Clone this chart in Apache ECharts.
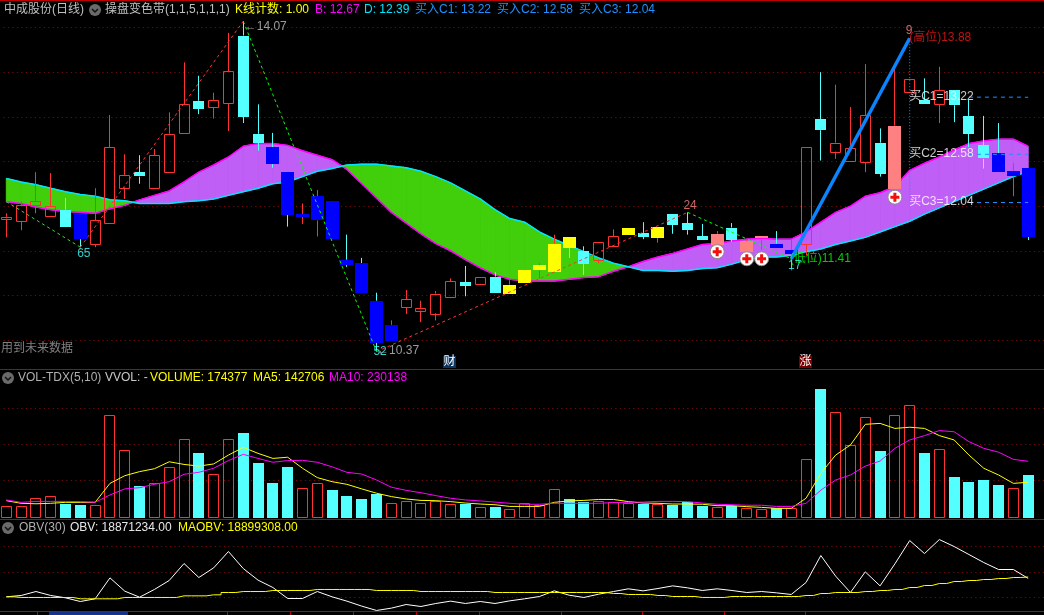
<!DOCTYPE html>
<html>
<head>
<meta charset="utf-8">
<style>html,body{margin:0;padding:0;background:#000;overflow:hidden}#c{width:1044px;height:615px}</style>
<script src="https://cdn.jsdelivr.net/npm/echarts@6/dist/echarts.min.js"></script>
</head>
<body>
<div id="c"></div>
<script>
// ---------- data ----------
const opens = [11.86,11.83,12.01,11.89,11.96,11.91,11.57,11.81,12.21,12.38,
  12.20,12.38,12.81,13.18,13.11,13.15,13.91,12.81,12.66,12.38,
  11.88,11.84,12.06,11.40,11.36,10.94,10.49,10.87,10.83,10.80,
  10.98,11.15,11.13,11.21,11.02,11.14,11.28,11.27,11.65,11.50,
  11.40,11.55,11.68,11.70,11.65,11.91,11.81,11.66,11.57,11.76,
  11.49,11.64,11.58,11.47,11.57,12.97,12.61,12.51,12.49,12.71,
  12.19,13.28,13.19,13.14,13.30,13.01,12.68,12.59,12.33,12.43];
const closes = [11.88,12.01,12.06,12.00,11.77,11.63,11.84,12.66,12.35,12.33,
  12.57,12.81,13.14,13.09,13.19,13.51,13.00,12.71,12.47,11.90,
  11.91,12.11,11.64,11.34,11.02,10.47,10.67,10.96,10.86,11.02,
  11.16,11.11,11.21,11.03,11.12,11.28,11.34,11.58,11.53,11.35,
  11.60,11.66,11.76,11.66,11.77,11.79,11.73,11.62,11.69,11.63,
  11.61,11.66,11.53,11.51,12.66,12.85,12.71,12.65,13.02,12.36,
  12.90,13.42,13.14,13.30,13.13,12.81,12.53,12.38,12.39,11.66];
const highs = [11.92,12.05,12.38,12.37,12.09,11.91,12.20,13.02,12.58,12.57,
  12.64,13.05,13.61,13.46,13.27,13.94,14.07,13.14,12.82,12.38,
  12.03,12.18,12.06,11.68,11.42,11.03,10.72,11.06,10.94,11.05,
  11.19,11.33,11.21,11.26,11.17,11.28,11.36,11.68,11.65,11.55,
  11.60,11.74,11.76,11.82,11.77,11.91,11.93,11.80,11.72,11.81,
  11.63,11.66,11.72,11.63,12.66,13.50,13.36,13.11,13.59,12.87,
  13.55,13.42,13.43,13.56,13.30,13.19,13.01,12.93,12.48,12.43];
const lows = [11.65,11.73,11.92,11.89,11.77,11.54,11.54,11.81,12.08,12.25,
  12.20,12.38,12.81,13.03,12.98,12.84,12.93,12.62,12.43,11.77,
  11.80,11.66,11.64,11.32,11.02,10.37,10.49,10.79,10.70,10.72,
  10.97,10.99,11.12,11.03,11.02,11.14,11.19,11.27,11.42,11.23,
  11.36,11.55,11.68,11.63,11.59,11.69,11.68,11.62,11.57,11.60,
  11.49,11.51,11.53,11.28,11.45,12.51,12.53,12.51,12.38,12.33,
  12.19,13.28,13.14,12.93,12.94,12.66,12.42,12.38,12.11,11.62];
// body paint of each candle: r hollow red, c cyan, b blue, y yellow, p pink
const bodyKinds = ['r','r','r','r','c','b','r','r','r','c',
  'r','r','r','c','r','r','c','c','b','b',
  'b','b','b','b','b','b','b','r','r','r',
  'r','c','r','c','y','y','y','y','y','c',
  'r','r','y','c','y','c','c','c','p','c',
  'p','p','b','b','r','c','r','r','r','c',
  'p','r','c','r','c','c','c','b','b','b'];
const lineB = [12.05,12.03,11.99,11.96,11.94,11.93,11.92,11.97,12.01,12.07,
  12.12,12.17,12.27,12.38,12.46,12.55,12.67,12.70,12.70,12.68,
  12.62,12.57,12.52,12.41,12.25,12.09,11.93,11.81,11.69,11.58,
  11.50,11.40,11.31,11.23,11.18,11.16,11.16,11.16,11.18,11.20,
  11.21,11.27,11.32,11.38,11.43,11.47,11.52,11.57,11.58,11.61,
  11.63,11.64,11.63,11.63,11.71,11.82,11.93,12.00,12.11,12.15,
  12.22,12.40,12.48,12.55,12.63,12.70,12.73,12.75,12.75,12.67];
const lineD = [12.31,12.27,12.24,12.20,12.16,12.13,12.11,12.07,12.06,12.03,
  12.03,12.03,12.05,12.06,12.08,12.12,12.16,12.20,12.25,12.27,
  12.33,12.39,12.42,12.46,12.47,12.47,12.45,12.43,12.39,12.33,
  12.26,12.17,12.08,11.96,11.86,11.82,11.71,11.63,11.56,11.49,
  11.42,11.36,11.32,11.28,11.28,11.27,11.28,11.30,11.31,11.35,
  11.40,11.43,11.43,11.45,11.49,11.52,11.57,11.61,11.65,11.71,
  11.77,11.83,11.91,11.98,12.05,12.12,12.19,12.26,12.33,12.39];
const volumes = [42000,42000,76000,84000,52000,48000,47000,422000,276000,127000,
  138000,205000,322000,265000,176000,322000,348000,223000,140000,206000,
  118000,138000,110000,85000,73000,94000,55000,63000,55000,66000,
  51000,52000,38000,40000,30000,55000,48000,113000,73000,60000,
  63000,59000,55000,53000,51000,48000,59000,44000,38000,44000,
  37000,30000,34000,34000,238000,531000,434000,297000,413000,273000,
  422000,463000,265000,280000,165000,144000,152000,131000,118000,174377];
const volMa5 = [66000,55000,53000,55000,59000,59000,59000,138000,170000,187000,
  199000,228000,217000,210000,219000,256000,288000,263000,242000,247000,
  201000,162000,145000,134000,115000,97000,83000,73000,67000,66000,
  62000,56000,52000,49000,42000,42000,42000,59000,65000,67000,
  71000,71000,62000,56000,55000,52000,52000,51000,45000,45000,
  41000,38000,34000,34000,76000,180000,256000,298000,384000,388000,
  367000,372000,367000,337000,319000,256000,201000,173000,138000,142706];
const volMa10 = [69000,59000,63000,63000,63000,62000,59000,90000,115000,120000,
  134000,145000,176000,184000,201000,233000,259000,242000,226000,233000,
  234000,226000,207000,184000,177000,152000,122000,109000,99000,87000,
  76000,69000,65000,60000,55000,51000,51000,55000,55000,55000,
  55000,58000,59000,60000,63000,63000,62000,56000,51000,49000,
  47000,47000,42000,42000,55000,110000,152000,173000,210000,231000,
  284000,319000,337000,358000,353000,312000,284000,268000,238000,230138];
const obv = [18510000,18536000,18614000,18536000,18490000,18418000,18471000,18882000,18621000,18503000,
  18654000,18830000,19163000,18889000,19078000,19399000,19065000,18837000,18693000,18477000,
  18477000,18614000,18510000,18425000,18327000,18242000,18288000,18359000,18320000,18379000,
  18425000,18379000,18418000,18379000,18431000,18471000,18516000,18627000,18542000,18497000,
  18562000,18614000,18667000,18627000,18673000,18725000,18686000,18634000,18667000,18634000,
  18595000,18614000,18588000,18556000,18791000,19320000,18915000,18595000,19000000,18725000,
  19157000,19614000,19359000,19634000,19497000,19340000,19183000,19046000,19046000,18871234];
const maObv = [18510000,18497000,18497000,18497000,18497000,18471000,18471000,18471000,18497000,18497000,
  18497000,18497000,18529000,18529000,18549000,18595000,18614000,18614000,18634000,18634000,
  18634000,18654000,18654000,18654000,18654000,18634000,18634000,18634000,18614000,18614000,
  18614000,18614000,18614000,18595000,18595000,18595000,18595000,18595000,18595000,18595000,
  18595000,18575000,18556000,18556000,18536000,18516000,18516000,18497000,18497000,18516000,
  18516000,18516000,18516000,18516000,18536000,18575000,18595000,18595000,18614000,18634000,
  18654000,18693000,18732000,18771000,18810000,18830000,18850000,18869000,18889000,18899308];
// zigzag legs as [candle index, price]
const legDownA = [[0,12.05],[5,11.54]];
const legUpA = [[5,11.54],[16,14.07]];
const legDownB = [[16,14.07],[25,10.37]];
const legUpB = [[25,10.37],[46,11.93]];
const legDownC = [[46,11.93],[53,11.41]];
const swingUp = [[53,11.41],[61,13.88]];
const swingDrop = [[61,13.88],[61,12.04]];
const buyC1 = [[65,13.22],[69,13.22]];
const buyC2 = [[65,12.58],[69,12.58]];
const buyC3 = [[65,12.04],[69,12.04]];
const plusSignals = [[48,11.49],[50,11.41],[51,11.41],[60,12.10]];
const annoIndex = [5,16,25,46,61,61,61,61,61,53,53,25];
const annoPrice = [11.54,14.07,10.37,11.93,13.88,13.88,13.22,12.58,12.04,11.41,11.41,10.37];
const annoText = ['65','←14.07','←10.37','24','9','(高位)13.88','买C1=13.22','买C2=12.58','买C3=12.04','(低位)11.41','17','52'];
const categories = opens.map((_, i) => 'K' + (i + 1)).concat(['']);

// ---------- styles ----------
const RED='#FF3232', CYAN='#54FFFF', BLUE='#0000FF', YELLOW='#FFFF00', PINK='#FF8080';
const FONT='"Liberation Sans","Noto Sans CJK SC",sans-serif';
const DOT={color:'#8a0c0c',type:[1,3.5],width:1};
const PANE='#C00000';
const annoStyle = [
  {c:'#40FFFF',p:[4,7],a:'center'},{c:'#C0C0C0',p:[2,6],a:'left'},{c:'#C0C0C0',p:[1,0],a:'left'},
  {c:'#FF8080',p:[3,-6],a:'center'},{c:'#FF8080',p:[0,-7],a:'center'},{c:'#F01818',p:[0,0],a:'left'},
  {c:'#FFFFFF',p:[0,0],a:'left'},{c:'#FFFFFF',p:[0,0],a:'left'},{c:'#FFFFFF',p:[0,0],a:'left'},
  {c:'#00FF00',p:[-1,0],a:'left'},{c:'#40FFFF',p:[4,7],a:'center'},{c:'#40FFFF',p:[4,1],a:'center'}];
const bodyPaint = {r:{fill:null,w:10,s:RED},c:{fill:CYAN,w:11},b:{fill:BLUE,w:13},y:{fill:YELLOW,w:13},p:{fill:PINK,w:13}};

function renderCandle(params, api){
  const i = params.dataIndex;
  const open=api.value(1), close=api.value(2), low=api.value(3), high=api.value(4);
  const up = close>=open;
  const wick = up?RED:CYAN;
  const x = Math.floor(api.coord([i,open])[0])+0.5;
  const yTop = api.coord([i,Math.max(open,close)])[1];
  const yBot = api.coord([i,Math.min(open,close)])[1];
  const yH = api.coord([i,high])[1], yL = api.coord([i,low])[1];
  const k = bodyPaint[bodyKinds[i]];
  const ch = [];
  ch.push({type:'line',shape:{x1:x,y1:yH,x2:x,y2:yTop},style:{stroke:wick,lineWidth:1}});
  ch.push({type:'line',shape:{x1:x,y1:yBot,x2:x,y2:yL},style:{stroke:wick,lineWidth:1}});
  if(k.fill){
    ch.push({type:'rect',shape:{x:x-k.w/2,y:Math.round(yTop),width:k.w,height:Math.max(Math.round(yBot-yTop),1)},style:{fill:k.fill}});
  }else{
    ch.push({type:'rect',shape:{x:x-k.w/2,y:Math.round(yTop)+0.5,width:k.w,height:Math.max(Math.round(yBot-yTop),1)},style:{fill:'none',stroke:k.s,lineWidth:1}});
  }
  return {type:'group',children:ch};
}
function renderVolume(params, api){
  const i = params.dataIndex;
  const x = Math.floor(api.coord([i,api.value(1)])[0])+0.5;
  const yTop = Math.round(api.coord([i,api.value(1)])[1]);
  const yBase = Math.round(api.coord([i,0])[1]);
  if(closes[i]>=opens[i]){
    return {type:'rect',shape:{x:x-5,y:yTop+0.5,width:10,height:yBase-yTop},style:{fill:'none',stroke:RED,lineWidth:1}};
  }
  return {type:'rect',shape:{x:x-5.5,y:yTop,width:11,height:yBase-yTop+1},style:{fill:CYAN}};
}
function renderRibbon(params, api){
  const i = params.dataIndex;
  if(i>=lineB.length-1) return;
  const b0=api.value(1,i), d0=api.value(2,i), b1=api.value(1,i+1), d1=api.value(2,i+1);
  const P = (x,v)=>api.coord([x,v]);
  const col = (b,d)=> b>=d ? '#BF5FF5' : '#41CF0B';
  const poly = (pts,c)=>({type:'polygon',shape:{points:pts},style:{fill:c,stroke:c,lineWidth:1}});
  const s0=b0-d0, s1=b1-d1;
  if(s0*s1<0){
    const t=s0/(s0-s1), v=b0+(b1-b0)*t;
    const a=P(i,b0), c=P(i,d0), e=P(i+1,b1), f=P(i+1,d1);
    const m=[a[0]+(e[0]-a[0])*t, P(i,v)[1]];
    return {type:'group',children:[poly([a,m,c],col(b0,d0)),poly([m,e,f],col(b1,d1))]};
  }
  return poly([P(i,b0),P(i+1,b1),P(i+1,d1),P(i,d0)],col(b0+b1,d0+d1));
}
function legSeries(name,data,color,extra){
  return Object.assign({name,type:'line',data,xAxisIndex:0,yAxisIndex:0,symbol:'none',silent:true,z:6,
    lineStyle:{color,width:1,type:[3,3]}},extra||{});
}

// ---------- chart chrome ----------
function txt(x,y,text,fill){return {type:'text',x,y,silent:true,z:20,style:{text,fill,font:'12px '+FONT,textVerticalAlign:'middle'}};}
function icon(x,y){return {type:'group',x,y,silent:true,z:20,children:[
  {type:'circle',shape:{cx:0,cy:0,r:6},style:{fill:'#6a6a6a'}},
  {type:'polyline',shape:{points:[[-3,-1],[0,2],[3,-1]]},style:{stroke:'#111',lineWidth:1.5,fill:'none'}}]};}
function hline(y){return {type:'rect',shape:{x:0,y,width:1044,height:1},style:{fill:PANE},silent:true,z:19};}
function badge(x,bg,t){return {type:'group',silent:true,z:20,children:[
  {type:'rect',shape:{x,y:356,width:13,height:12},style:{fill:bg}},
  {type:'text',x:x+0.5,y:362,style:{text:t,fill:'#fff',font:'12px '+FONT,textVerticalAlign:'middle'}}]};}
const bottomTicks=[37,227,290,353,416,479,561,642,724,805];
const graphic=[hline(0),hline(369),hline(519),hline(611),
  txt(4,10,'中成股份(日线)','#C0C0C0'),icon(95,10),txt(105,10,'操盘变色带(1,1,5,1,1,1)','#C0C0C0'),
  txt(235,10,'K线计数: 1.00','#FFFF00'),txt(315,10,'B: 12.67','#FF00FF'),txt(364,10,'D: 12.39','#00E5FF'),
  txt(415,10,'买入C1: 13.22','#1E90FF'),txt(497,10,'买入C2: 12.58','#1E90FF'),txt(579,10,'买入C3: 12.04','#1E90FF'),
  txt(1,349,'用到未来数据','#808080'),badge(443,'#0C3460','财'),badge(799,'#7A0000','涨'),
  icon(8,378),txt(18,378,'VOL-TDX(5,10)','#B0B0B0'),txt(105,378,'VVOL: -','#C8C8C8'),
  txt(150,378,'VOLUME: 174377','#FFFF00'),txt(253,378,'MA5: 142706','#FFFF00'),txt(329,378,'MA10: 230138','#FF00FF'),
  icon(8,528),txt(19,528,'OBV(30)','#B0B0B0'),txt(70,528,'OBV: 18871234.00','#E8E8E8'),txt(178,528,'MAOBV: 18899308.00','#FFFF00'),
  {type:'rect',shape:{x:49,y:612,width:79,height:3},style:{fill:'#16328C'},silent:true,z:20}
].concat(bottomTicks.map(x=>({type:'rect',shape:{x,y:612,width:1,height:3},style:{fill:PANE},silent:true,z:20})));

const yCommon={type:'value',axisLine:{show:false},axisTick:{show:false},axisLabel:{show:false},
  splitLine:{show:true,showMinLine:false,showMaxLine:false,lineStyle:DOT},scale:false};
const xCommon=(i)=>({type:'category',gridIndex:i,data:categories,show:false,boundaryGap:true});
const LEFT=-1.1, WIDTH=1051.5;

const option={
  backgroundColor:'#000',animation:false,tooltip:{show:false},legend:{show:false},
  graphic:{elements:graphic},
  grid:[
    {left:LEFT,width:WIDTH,top:-17.15,height:401.85,outerBoundsMode:'none',containLabel:false},
    {left:LEFT,width:WIDTH,top:372.5,height:144,outerBoundsMode:'none',containLabel:false},
    {left:LEFT,width:WIDTH,top:520.9,height:101.9,outerBoundsMode:'none',containLabel:false}],
  xAxis:[xCommon(0),xCommon(1),xCommon(2)],
  yAxis:[
    Object.assign({},yCommon,{gridIndex:0,min:10,max:14.5,interval:0.5}),
    Object.assign({},yCommon,{gridIndex:1,min:0,max:600000,interval:150000}),
    Object.assign({},yCommon,{gridIndex:2,min:18000000,max:20000000,interval:500000})],
  series:[
    {name:'ribbon',type:'custom',xAxisIndex:0,yAxisIndex:0,z:1,silent:true,renderItem:renderRibbon,
      data:lineB.map((b,i)=>[i,b,lineD[i]])},
    {name:'B',type:'line',data:lineB,xAxisIndex:0,yAxisIndex:0,symbol:'none',silent:true,z:2,lineStyle:{color:'#FF00FF',width:1.5}},
    {name:'D',type:'line',data:lineD,xAxisIndex:0,yAxisIndex:0,symbol:'none',silent:true,z:2,lineStyle:{color:'#00E5FF',width:1.5}},
    {name:'K',type:'custom',xAxisIndex:0,yAxisIndex:0,z:4,silent:true,renderItem:renderCandle,
      data:opens.map((o,i)=>[i,o,closes[i],lows[i],highs[i]])},
    legSeries('down1',legDownA,'#00FF00'),
    legSeries('up1',legUpA,RED),
    legSeries('down2',legDownB,'#00FF00'),
    legSeries('up2',legUpB,RED),
    legSeries('down3',legDownC,'#00FF00'),
    legSeries('swing',swingUp,'#0A84FF',{lineStyle:{color:'#0A84FF',width:3.5},z:7}),
    legSeries('drop',swingDrop,'#1E90FF',{lineStyle:{color:'#1E90FF',width:1,type:[1,2]}}),
    legSeries('C1',buyC1,'#1E90FF',{lineStyle:{color:'#1E90FF',width:1,type:[4,4]}}),
    legSeries('C2',buyC2,'#1E90FF',{lineStyle:{color:'#1E90FF',width:1,type:[4,4]}}),
    legSeries('C3',buyC3,'#1E90FF',{lineStyle:{color:'#1E90FF',width:1,type:[4,4]}}),
    {name:'signal',type:'scatter',xAxisIndex:0,yAxisIndex:0,data:plusSignals,symbol:'circle',symbolSize:14,z:8,silent:true,
      itemStyle:{color:'#fff',borderColor:'#8a8a8a',borderWidth:1,opacity:1}},
    {name:'plus',type:'scatter',xAxisIndex:0,yAxisIndex:0,data:plusSignals,symbolSize:9,z:9,silent:true,
      symbol:'path://M3 0h3v3h3v3h-3v3h-3v-3h-3v-3h3z',itemStyle:{color:'#F01010',opacity:1}},
    {name:'labels',type:'scatter',xAxisIndex:0,yAxisIndex:0,symbolSize:1,z:10,silent:true,
      itemStyle:{color:'rgba(0,0,0,0)'},
      data:annoIndex.map((x,i)=>({value:[x,annoPrice[i]],label:{show:true,formatter:annoText[i],color:annoStyle[i].c,
        position:annoStyle[i].p,align:annoStyle[i].a,verticalAlign:'middle',fontSize:12,fontFamily:FONT}}))},
    {name:'VOLUME',type:'custom',xAxisIndex:1,yAxisIndex:1,silent:true,z:2,renderItem:renderVolume,
      data:volumes.map((v,i)=>[i,v])},
    {name:'MA5',type:'line',data:volMa5,xAxisIndex:1,yAxisIndex:1,symbol:'none',silent:true,z:3,lineStyle:{color:'#FFFF00',width:1}},
    {name:'MA10',type:'line',data:volMa10,xAxisIndex:1,yAxisIndex:1,symbol:'none',silent:true,z:3,lineStyle:{color:'#FF00FF',width:1}},
    {name:'OBV',type:'line',data:obv,xAxisIndex:2,yAxisIndex:2,symbol:'none',silent:true,z:3,lineStyle:{color:'#FFFFFF',width:1}},
    {name:'MAOBV',type:'line',data:maObv,xAxisIndex:2,yAxisIndex:2,symbol:'none',silent:true,z:4,step:'middle',lineStyle:{color:'#FFFF00',width:1}}
  ]
};
const chart=echarts.init(document.getElementById('c'),null,{renderer:'canvas',width:1044,height:615});
chart.setOption(option);
</script>
</body>
</html>
